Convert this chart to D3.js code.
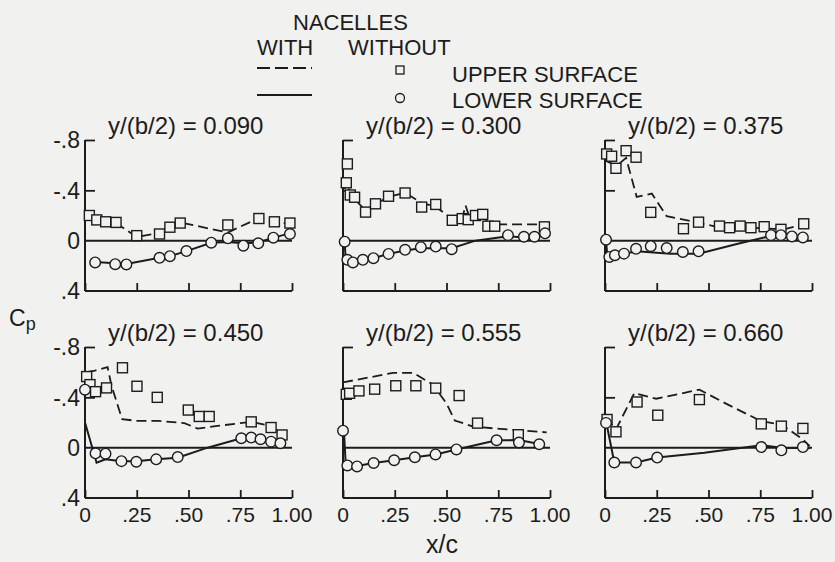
<!DOCTYPE html>
<html><head><meta charset="utf-8">
<script src="https://cdn.jsdelivr.net/npm/d3@7"></script>
<style>
html,body{margin:0;padding:0;background:#f1f1ef;}
svg{display:block;}
text{font-family:"Liberation Sans",Arial,sans-serif;fill:#1c1c1c;}
</style></head>
<body>
<script>
// ---- data ----
const stations = ["0.090","0.300","0.375","0.450","0.555","0.660"];
const yTicks = [-0.8,-0.4,0,0.4];
const yTickLabels = ["-.8","-.4","0",".4"];
const xTicks = [0,0.25,0.5,0.75,1];
const xTickLabels = ["0",".25",".50",".75","1.00"];

// [x/c, Cp]
const p090_upperWithout = [[0.021,-0.20],[0.057,-0.165],[0.10,-0.15],[0.15,-0.145],[0.25,-0.04],[0.36,-0.053],[0.41,-0.107],[0.46,-0.14],[0.69,-0.125],[0.84,-0.176],[0.915,-0.15],[0.99,-0.14]];
const p090_upperWith = [[0.01,-0.205],[0.057,-0.17],[0.10,-0.15],[0.15,-0.14],[0.25,-0.03],[0.36,-0.06],[0.41,-0.11],[0.46,-0.145],[0.69,-0.065],[0.84,-0.18],[0.915,-0.145],[0.99,-0.135]];
const p090_lowerWithout = [[0.049,0.173],[0.146,0.187],[0.20,0.189],[0.36,0.136],[0.41,0.123],[0.49,0.083],[0.61,0.016],[0.69,-0.019],[0.765,0.04],[0.837,0.021],[0.91,-0.024],[0.99,-0.053]];
const p090_lowerWith = [[0.049,0.17],[0.146,0.18],[0.20,0.185],[0.36,0.136],[0.41,0.123],[0.49,0.083],[0.61,0.016],[0.69,0.01],[0.765,0.02],[0.837,0.015],[0.91,-0.024],[0.99,-0.058]];

const p300_upperWithout = [[0.021,-0.61],[0.016,-0.46],[0.035,-0.363],[0.056,-0.345],[0.109,-0.227],[0.157,-0.293],[0.22,-0.353],[0.30,-0.379],[0.38,-0.267],[0.448,-0.288],[0.528,-0.162],[0.576,-0.175],[0.605,-0.167],[0.64,-0.2],[0.675,-0.209],[0.70,-0.115],[0.733,-0.115],[0.973,-0.11]];
const p300_upperWith = [[0.008,-0.41],[0.02,-0.47],[0.035,-0.37],[0.056,-0.33],[0.109,-0.24],[0.157,-0.29],[0.22,-0.35],[0.30,-0.38],[0.38,-0.30],[0.448,-0.27],[0.528,-0.17],[0.576,-0.18],[0.592,-0.28],[0.61,-0.19],[0.675,-0.21],[0.70,-0.14],[0.733,-0.13],[0.973,-0.13]];
const p300_lowerWithout = [[0.008,0.008],[0.021,0.152],[0.048,0.173],[0.096,0.152],[0.147,0.139],[0.22,0.105],[0.30,0.073],[0.376,0.052],[0.448,0.047],[0.525,0.068],[0.797,-0.044],[0.874,-0.031],[0.925,-0.031],[0.976,-0.058]];
const p300_lowerWith = [[0.008,0.01],[0.013,0.15],[0.048,0.17],[0.096,0.152],[0.147,0.139],[0.22,0.105],[0.30,0.078],[0.376,0.06],[0.525,0.06],[0.64,0.0],[0.797,-0.036],[0.874,-0.026],[0.925,-0.026],[0.976,-0.045]];

const p375_upperWithout = [[0.008,-0.689],[0.032,-0.671],[0.053,-0.575],[0.102,-0.715],[0.15,-0.663],[0.221,-0.225],[0.379,-0.095],[0.452,-0.147],[0.553,-0.116],[0.602,-0.103],[0.653,-0.116],[0.705,-0.103],[0.769,-0.111],[0.85,-0.09],[0.96,-0.134]];
const p375_upperWith = [[0.008,-0.632],[0.056,-0.594],[0.102,-0.658],[0.153,-0.348],[0.226,-0.374],[0.298,-0.194],[0.452,-0.142],[0.556,-0.103],[0.71,-0.103],[0.863,-0.09],[0.96,-0.129]];
const p375_lowerWithout = [[0.005,-0.008],[0.021,0.129],[0.048,0.116],[0.092,0.103],[0.15,0.065],[0.221,0.044],[0.298,0.059],[0.376,0.09],[0.452,0.085],[0.802,-0.044],[0.85,-0.044],[0.903,-0.034],[0.956,-0.026]];
const p375_lowerWith = [[0.005,0],[0.011,0.116],[0.056,0.116],[0.153,0.085],[0.234,0.095],[0.315,0.103],[0.452,0.103],[0.637,0.026],[0.802,-0.039],[0.96,-0.026]];

const p450_upperWithout = [[0.008,-0.565],[0.024,-0.501],[0.051,-0.445],[0.104,-0.475],[0.181,-0.635],[0.251,-0.488],[0.349,-0.40],[0.499,-0.299],[0.552,-0.248],[0.60,-0.248],[0.803,-0.205],[0.899,-0.16],[0.952,-0.101]];
const p450_upperWith = [[0.008,-0.60],[0.048,-0.613],[0.109,-0.64],[0.128,-0.493],[0.179,-0.227],[0.248,-0.213],[0.352,-0.213],[0.48,-0.195],[0.544,-0.152],[0.64,-0.173],[0.803,-0.205],[0.899,-0.173],[0.952,-0.107],[0.968,-0.067]];
const p450_lowerWithout = [[0.0,-0.461],[0.051,0.045],[0.099,0.048],[0.176,0.107],[0.248,0.112],[0.344,0.093],[0.448,0.075],[0.755,-0.075],[0.803,-0.08],[0.848,-0.067],[0.899,-0.048],[0.944,-0.035]];
const p450_lowerWith = [[0.0,-0.2],[0.056,0.12],[0.099,0.093],[0.176,0.107],[0.248,0.107],[0.344,0.093],[0.448,0.08],[0.592,0.0],[0.755,-0.075],[0.803,-0.067],[0.899,-0.053],[0.952,-0.04]];

const p555_upperWithout = [[0.016,-0.424],[0.032,-0.432],[0.077,-0.451],[0.153,-0.465],[0.255,-0.492],[0.352,-0.492],[0.448,-0.473],[0.561,-0.414],[0.65,-0.195],[0.847,-0.103]];
const p555_upperWith = [[0.0,-0.519],[0.113,-0.554],[0.242,-0.595],[0.339,-0.595],[0.435,-0.5],[0.5,-0.351],[0.54,-0.216],[0.629,-0.168],[0.758,-0.149],[0.984,-0.122]];
const p555_lowerWithout = [[0.0,-0.135],[0.021,0.141],[0.068,0.149],[0.148,0.122],[0.247,0.1],[0.347,0.076],[0.447,0.054],[0.548,0.014],[0.742,-0.059],[0.85,-0.041],[0.948,-0.027]];
const p555_lowerWith = [[0.005,-0.12],[0.013,0.13],[0.068,0.145],[0.148,0.122],[0.247,0.1],[0.347,0.076],[0.447,0.054],[0.548,0.014],[0.742,-0.059],[0.85,-0.06],[0.948,-0.03]];

const p660_upperWithout = [[0.01,-0.224],[0.053,-0.126],[0.155,-0.363],[0.255,-0.258],[0.456,-0.382],[0.755,-0.189],[0.852,-0.171],[0.956,-0.153]];
const p660_upperWith = [[0.005,-0.237],[0.053,-0.145],[0.142,-0.434],[0.247,-0.389],[0.456,-0.461],[0.594,-0.342],[0.755,-0.21],[0.852,-0.184],[0.956,-0.066],[0.989,-0.013]];
const p660_lowerWithout = [[0.005,-0.197],[0.045,0.118],[0.15,0.118],[0.252,0.079],[0.755,-0.005],[0.852,0.021],[0.956,-0.005]];
const p660_lowerWith = [[0.005,-0.21],[0.045,0.118],[0.15,0.118],[0.252,0.079],[0.48,0.04],[0.755,-0.02],[0.852,0.0],[0.989,0.005]];

const panelData = [
  {st:stations[0], uw:p090_upperWithout, uW:p090_upperWith, lw:p090_lowerWithout, lW:p090_lowerWith},
  {st:stations[1], uw:p300_upperWithout, uW:p300_upperWith, lw:p300_lowerWithout, lW:p300_lowerWith},
  {st:stations[2], uw:p375_upperWithout, uW:p375_upperWith, lw:p375_lowerWithout, lW:p375_lowerWith},
  {st:stations[3], uw:p450_upperWithout, uW:p450_upperWith, lw:p450_lowerWithout, lW:p450_lowerWith},
  {st:stations[4], uw:p555_upperWithout, uW:p555_upperWith, lw:p555_lowerWithout, lW:p555_lowerWith},
  {st:stations[5], uw:p660_upperWithout, uW:p660_upperWith, lw:p660_lowerWithout, lW:p660_lowerWith}
];

// ---- layout ----
const W = 835, H = 562;
const ink = "#1c1c1c", bg = "#f1f1ef";
const colX = [85, 343, 605], panelW = 207;
const rowY = [[140, 291], [347, 498]]; // y(-0.8), y(0.4)

const svg = d3.select("body").append("svg").attr("width", W).attr("height", H);
svg.append("rect").attr("width", W).attr("height", H).attr("fill", bg);

panelData.forEach((p, i) => {
  const c = i % 3, r = Math.floor(i / 3);
  const x = d3.scaleLinear().domain([0, 1]).range([colX[c], colX[c] + panelW]);
  const y = d3.scaleLinear().domain([-0.8, 0.4]).range(rowY[r]);
  const g = svg.append("g");

  const xAxis = d3.axisTop(x).tickValues(xTicks).tickSize(8).tickFormat("");
  const gx = g.append("g").attr("transform", `translate(0,${y(0.4)})`).call(xAxis);
  gx.select(".domain").attr("d", `M${x(0)},0H${x(1)}`).attr("stroke", ink).attr("stroke-width", 2);
  gx.selectAll(".tick line").attr("stroke", ink).attr("stroke-width", 1.8);

  const yAxis = d3.axisRight(y).tickValues([-0.8, -0.4]).tickSize(10).tickFormat("");
  const gy = g.append("g").attr("transform", `translate(${x(0)},0)`).call(yAxis);
  gy.select(".domain").attr("d", `M0,${y(-0.8)}V${y(0.4)}`).attr("stroke", ink).attr("stroke-width", 2);
  gy.selectAll(".tick line").attr("stroke", ink).attr("stroke-width", 1.8);

  g.append("line").attr("x1", x(0)).attr("x2", x(1)).attr("y1", y(0)).attr("y2", y(0))
    .attr("stroke", ink).attr("stroke-width", 2);

  if (c === 0) {
    yTicks.forEach((t, k) => {
      g.append("text").attr("x", x(0) - 5).attr("y", y(t)).attr("dy", "0.36em")
        .attr("text-anchor", "end").attr("font-size", 23).text(yTickLabels[k]);
    });
  }
  if (r === 1) {
    xTicks.forEach((t, k) => {
      g.append("text").attr("x", x(t)).attr("y", y(0.4) + 24)
        .attr("text-anchor", "middle").attr("font-size", 21).text(xTickLabels[k]);
    });
  }

  g.append("text").attr("x", x(0) + 23).attr("y", y(-0.8) - 6)
    .attr("font-size", 24).text(`y/(b/2) = ${p.st}`);

  const line = d3.line().x(d => x(d[0])).y(d => y(d[1]));
  g.append("path").datum(p.uW).attr("d", line).attr("fill", "none")
    .attr("stroke", ink).attr("stroke-width", 1.8).attr("stroke-dasharray", "10,5");
  g.append("path").datum(p.lW).attr("d", line).attr("fill", "none")
    .attr("stroke", ink).attr("stroke-width", 2);

  g.selectAll("rect.sq").data(p.uw).enter().append("rect")
    .attr("x", d => x(d[0]) - 5).attr("y", d => y(d[1]) - 5)
    .attr("width", 10).attr("height", 10)
    .attr("fill", bg).attr("stroke", ink).attr("stroke-width", 1.4);
  g.selectAll("circle.ci").data(p.lw).enter().append("circle")
    .attr("cx", d => x(d[0])).attr("cy", d => y(d[1])).attr("r", 5.3)
    .attr("fill", bg).attr("stroke", ink).attr("stroke-width", 1.4);
});

const cp = svg.append("text").attr("x", 9).attr("y", 326).attr("font-size", 23);
cp.append("tspan").text("C");
cp.append("tspan").attr("font-size", 18).attr("dy", 4).text("p");

svg.append("text").attr("x", 442).attr("y", 553).attr("text-anchor", "middle")
  .attr("font-size", 25).text("x/c");

svg.append("text").attr("x", 293).attr("y", 30).attr("font-size", 22).text("NACELLES");
svg.append("text").attr("x", 257).attr("y", 55).attr("font-size", 22).text("WITH");
svg.append("text").attr("x", 348).attr("y", 55).attr("font-size", 22).text("WITHOUT");
svg.append("line").attr("x1", 257).attr("x2", 312).attr("y1", 68).attr("y2", 68)
  .attr("stroke", ink).attr("stroke-width", 2.2).attr("stroke-dasharray", "13,5");
svg.append("line").attr("x1", 257).attr("x2", 312).attr("y1", 95).attr("y2", 95)
  .attr("stroke", ink).attr("stroke-width", 2.2);
svg.append("rect").attr("x", 396).attr("y", 66).attr("width", 8).attr("height", 8)
  .attr("fill", bg).attr("stroke", ink).attr("stroke-width", 1.3);
svg.append("circle").attr("cx", 400).attr("cy", 98).attr("r", 4.5)
  .attr("fill", bg).attr("stroke", ink).attr("stroke-width", 1.3);
svg.append("text").attr("x", 452).attr("y", 82).attr("font-size", 22).text("UPPER SURFACE");
svg.append("text").attr("x", 452).attr("y", 108).attr("font-size", 22).text("LOWER SURFACE");
</script>
</body></html>
